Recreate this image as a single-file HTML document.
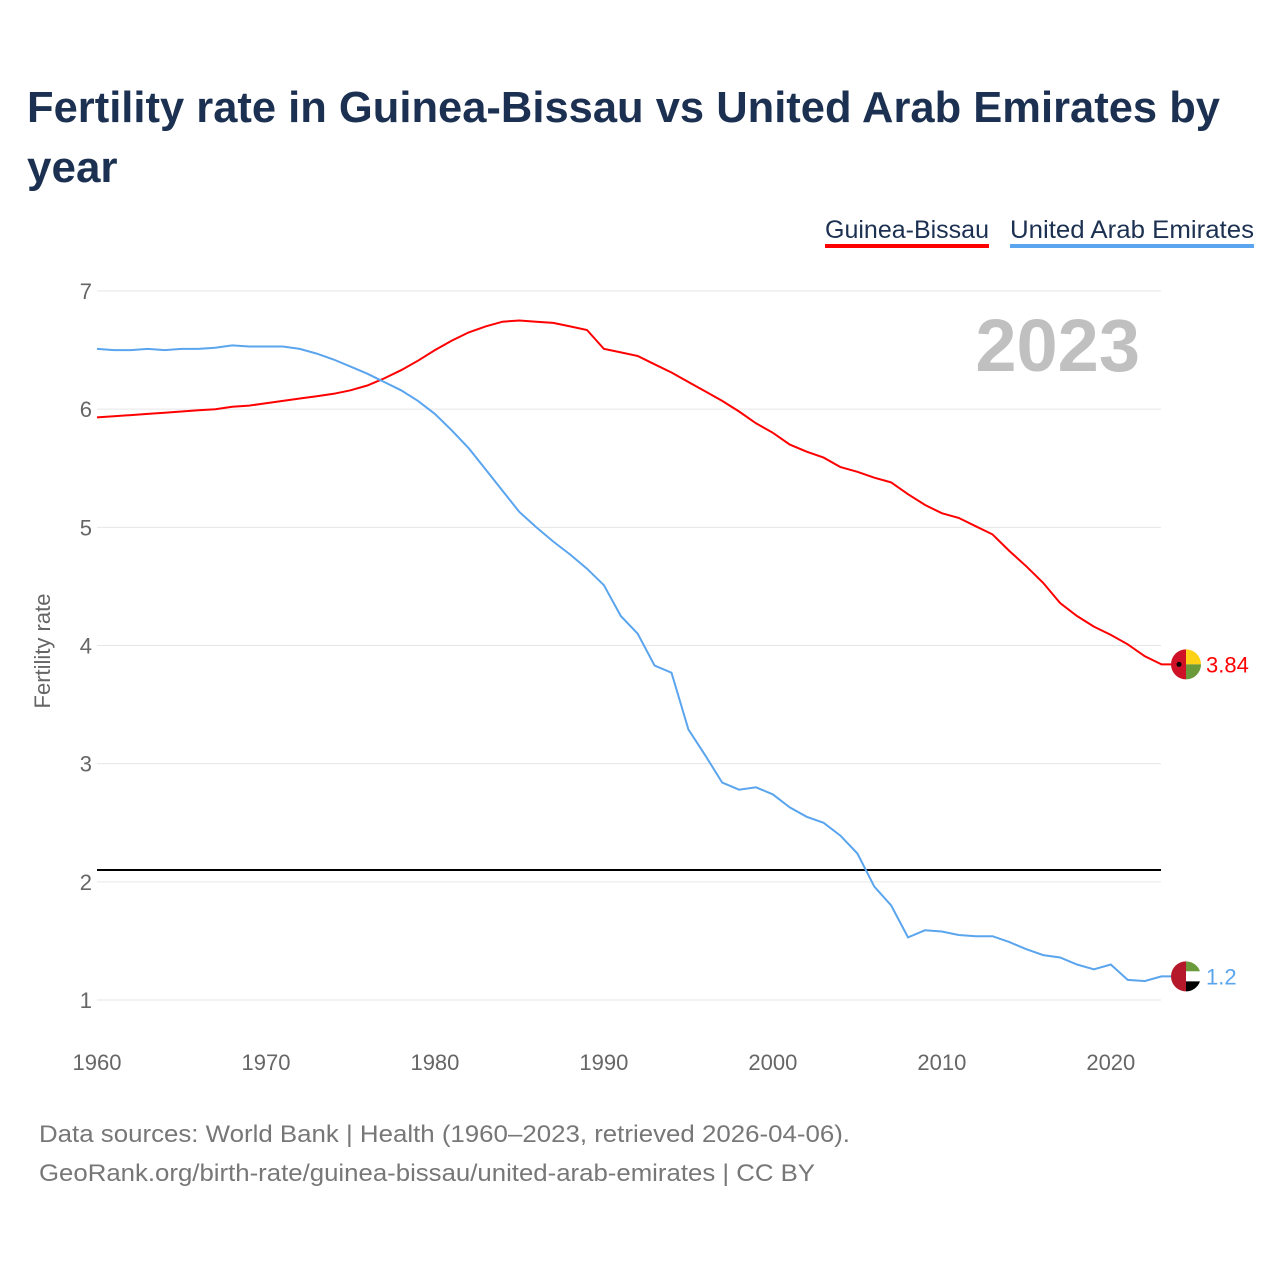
<!DOCTYPE html>
<html><head><meta charset="utf-8"><style>
body{margin:0;background:#fff;font-family:"Liberation Sans",sans-serif;}
#wrap{position:relative;width:1280px;height:1280px;overflow:hidden;}
</style></head><body>
<div id="wrap">
<svg id="chart" width="1280" height="1280">
<text x="27" y="122" font-size="44" font-weight="bold" fill="#1c3151" textLength="1193" lengthAdjust="spacingAndGlyphs">Fertility rate in Guinea-Bissau vs United Arab Emirates by</text>
<text x="27" y="182" font-size="44" font-weight="bold" fill="#1c3151">year</text>
<g><text x="825" y="238" font-size="25" fill="#1c3151" textLength="164" lengthAdjust="spacingAndGlyphs">Guinea-Bissau</text><rect x="825" y="244" width="164" height="4" fill="#ff0000"/></g>
<g><text x="1010" y="238" font-size="25" fill="#1c3151" textLength="244" lengthAdjust="spacingAndGlyphs">United Arab Emirates</text><rect x="1010" y="244" width="244" height="4" fill="#5aa5ee"/></g>
<text x="1140" y="371" font-size="74" font-weight="bold" fill="#c0c0c0" text-anchor="end">2023</text>
<text transform="translate(50,651) rotate(-90)" font-size="22" fill="#666" text-anchor="middle">Fertility rate</text>
<g id="grid"></g><g id="ylabels"></g><g id="xlabels"></g><g id="lines"></g><g id="ends"></g>
<text x="39" y="1142" font-size="24" fill="#777" textLength="811" lengthAdjust="spacingAndGlyphs">Data sources: World Bank | Health (1960–2023, retrieved 2026-04-06).</text>
<text x="39" y="1181" font-size="24" fill="#777" textLength="776" lengthAdjust="spacingAndGlyphs">GeoRank.org/birth-rate/guinea-bissau/united-arab-emirates | CC BY</text>
</svg></div>
<script>
const years=[];for(let y=1960;y<=2023;y++)years.push(y);
const guineaBissau=[5.93,5.94,5.95,5.96,5.97,5.98,5.99,6.00,6.02,6.03,6.05,6.07,6.09,6.11,6.13,6.16,6.20,6.26,6.33,6.41,6.50,6.58,6.65,6.70,6.74,6.75,6.74,6.73,6.70,6.67,6.51,6.48,6.45,6.38,6.31,6.23,6.15,6.07,5.98,5.88,5.80,5.70,5.64,5.59,5.51,5.47,5.42,5.38,5.28,5.19,5.12,5.08,5.01,4.94,4.80,4.67,4.53,4.36,4.25,4.16,4.09,4.01,3.91,3.84];
const uae=[6.51,6.50,6.50,6.51,6.50,6.51,6.51,6.52,6.54,6.53,6.53,6.53,6.51,6.47,6.42,6.36,6.30,6.23,6.16,6.07,5.96,5.82,5.67,5.49,5.31,5.13,5.00,4.88,4.77,4.65,4.51,4.25,4.10,3.83,3.77,3.29,3.07,2.84,2.78,2.80,2.74,2.63,2.55,2.50,2.39,2.24,1.96,1.80,1.53,1.59,1.58,1.55,1.54,1.54,1.49,1.43,1.38,1.36,1.30,1.26,1.30,1.17,1.16,1.20];
const yTicks=[1,2,3,4,5,6,7];
const xTicks=[1960,1970,1980,1990,2000,2010,2020];
const replacementRate=2.1;
const NS="http://www.w3.org/2000/svg";
const X=y=>97+(y-1960)*(1161.5-97)/63;
const Y=v=>1000-(v-1)*(1000-291)/6;
function mk(tag,attrs,parent,txt){const e=document.createElementNS(NS,tag);for(const k in attrs)e.setAttribute(k,attrs[k]);if(txt!==undefined)e.textContent=txt;document.getElementById(parent).appendChild(e);return e;}
yTicks.forEach(t=>{
 const l=mk('line',{x1:97,x2:1161,y1:Y(t),y2:Y(t),stroke:'#e6e6e6','stroke-width':1},'grid');
 
 
 const tx=mk('text',{x:92,y:Y(t)+8,'font-size':22,fill:'#666','text-anchor':'end'},'ylabels',String(t));
 
 
});
xTicks.forEach(t=>{
 const tx=mk('text',{x:X(t),y:1070,'font-size':22,fill:'#666','text-anchor':'middle'},'xlabels',String(t));
 
 
});
const rl=mk('line',{x1:97,x2:1161,y1:Y(replacementRate),y2:Y(replacementRate),stroke:'#000','stroke-width':2},'grid');


function series(vals,color,name){
 const d=vals.map((v,i)=>(i?'L':'M')+X(years[i]).toFixed(1)+','+Y(v).toFixed(1)).join(' ');
 const p=mk('path',{d:d,fill:'none',stroke:color,'stroke-width':2},'lines');
 
 
}
series(guineaBissau,'#ff0000','guinea-bissau');
series(uae,'#5aa5ee','uae');
function endMark(v,color,label,name,flag){
 const cy=Y(v),cx=1186;
 const g=mk('g',{},'ends');
 
 
 mk('line',{x1:1161,x2:cx,y1:cy,y2:cy,stroke:color,'stroke-width':2},'ends');
 flag(cx,cy);
 mk('text',{x:1206,y:cy+8,'font-size':22,fill:color},'ends',label);
}
endMark(guineaBissau[63],'#ff0000',String(guineaBissau[63]),'guinea-bissau',(cx,cy)=>{
 mk('path',{d:`M${cx},${cy-15}A15,15 0 0 0 ${cx},${cy+15}Z`,fill:'#ce1126'},'ends');
 mk('path',{d:`M${cx},${cy-15}A15,15 0 0 1 ${cx+15},${cy}L${cx},${cy}Z`,fill:'#fcd116'},'ends');
 mk('path',{d:`M${cx},${cy+15}A15,15 0 0 0 ${cx+15},${cy}L${cx},${cy}Z`,fill:'#6a9a3a'},'ends');
 mk('circle',{cx:cx-7,cy:cy,r:2.5,fill:'#000'},'ends');
});
endMark(uae[63],'#5aa5ee',String(uae[63]),'uae',(cx,cy)=>{
 mk('path',{d:`M${cx},${cy-15}A15,15 0 0 0 ${cx},${cy+15}Z`,fill:'#b5182b'},'ends');
 mk('path',{d:`M${cx},${cy-15}A15,15 0 0 1 ${cx+14},${cy-5}L${cx},${cy-5}Z`,fill:'#6a9a3a'},'ends');
 mk('rect',{x:cx,y:cy-5,width:15,height:10,fill:'#fff'},'ends');
 mk('path',{d:`M${cx},${cy+15}A15,15 0 0 0 ${cx+14},${cy+5}L${cx},${cy+5}Z`,fill:'#000'},'ends');
});
</script>
</body></html>
